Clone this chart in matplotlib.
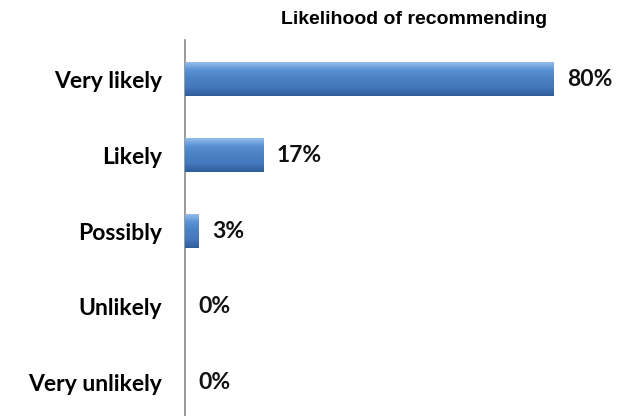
import numpy as np
import matplotlib.pyplot as plt
from matplotlib.colors import LinearSegmentedColormap

categories = ["Very likely", "Likely", "Possibly", "Unlikely", "Very unlikely"]
shares = [80, 17, 3, 0, 0]
value_labels = ["80%", "17%", "3%", "0%", "0%"]

fig = plt.figure(figsize=(6.28, 4.16), dpi=100)
ax = fig.add_axes([0.294, 0.0, 0.66, 0.904])

ypos = np.arange(len(categories))
bars = ax.barh(ypos, shares, height=0.45, color="#4a80c4", edgecolor="none")

# vertical shading on each bar: light top edge, darker bottom
bevel = LinearSegmentedColormap.from_list(
    "bevel", ["#9cc2ee", "#5a92d6", "#4a80c4", "#4479bd", "#2e5d99"])
grad = np.linspace(0, 1, 64).reshape(-1, 1)
for b in bars:
    if b.get_width() <= 0:
        continue
    x0, y0 = b.get_x(), b.get_y()
    w, h = b.get_width(), b.get_height()
    im = ax.imshow(grad, cmap=bevel, aspect="auto",
                   extent=(x0, x0 + w, y0 + h, y0), zorder=3)
    im.set_clip_path(b)

for y, v, lab in zip(ypos, shares, value_labels):
    ax.text(v + 3, y, lab, va="center", ha="left", fontsize=16.5,
            fontweight="bold", family="Lato", color="#111111")

ax.set_xlim(0, 90)
ax.set_ylim(4.44, -0.52)
ax.set_yticks(ypos)
ax.set_yticklabels(categories, fontsize=16.5, fontweight="bold", family="Lato")
ax.tick_params(axis="y", length=0, pad=16)
ax.set_xticks([])
for s in ["top", "right", "bottom"]:
    ax.spines[s].set_visible(False)
ax.spines["left"].set_color("#888888")
ax.spines["left"].set_linewidth(1.2)

fig.text(0.66, 0.952, "Likelihood of recommending", ha="center", va="center",
         fontsize=14, fontweight="bold", family="Liberation Sans")

fig.savefig("out.png", dpi=100)
